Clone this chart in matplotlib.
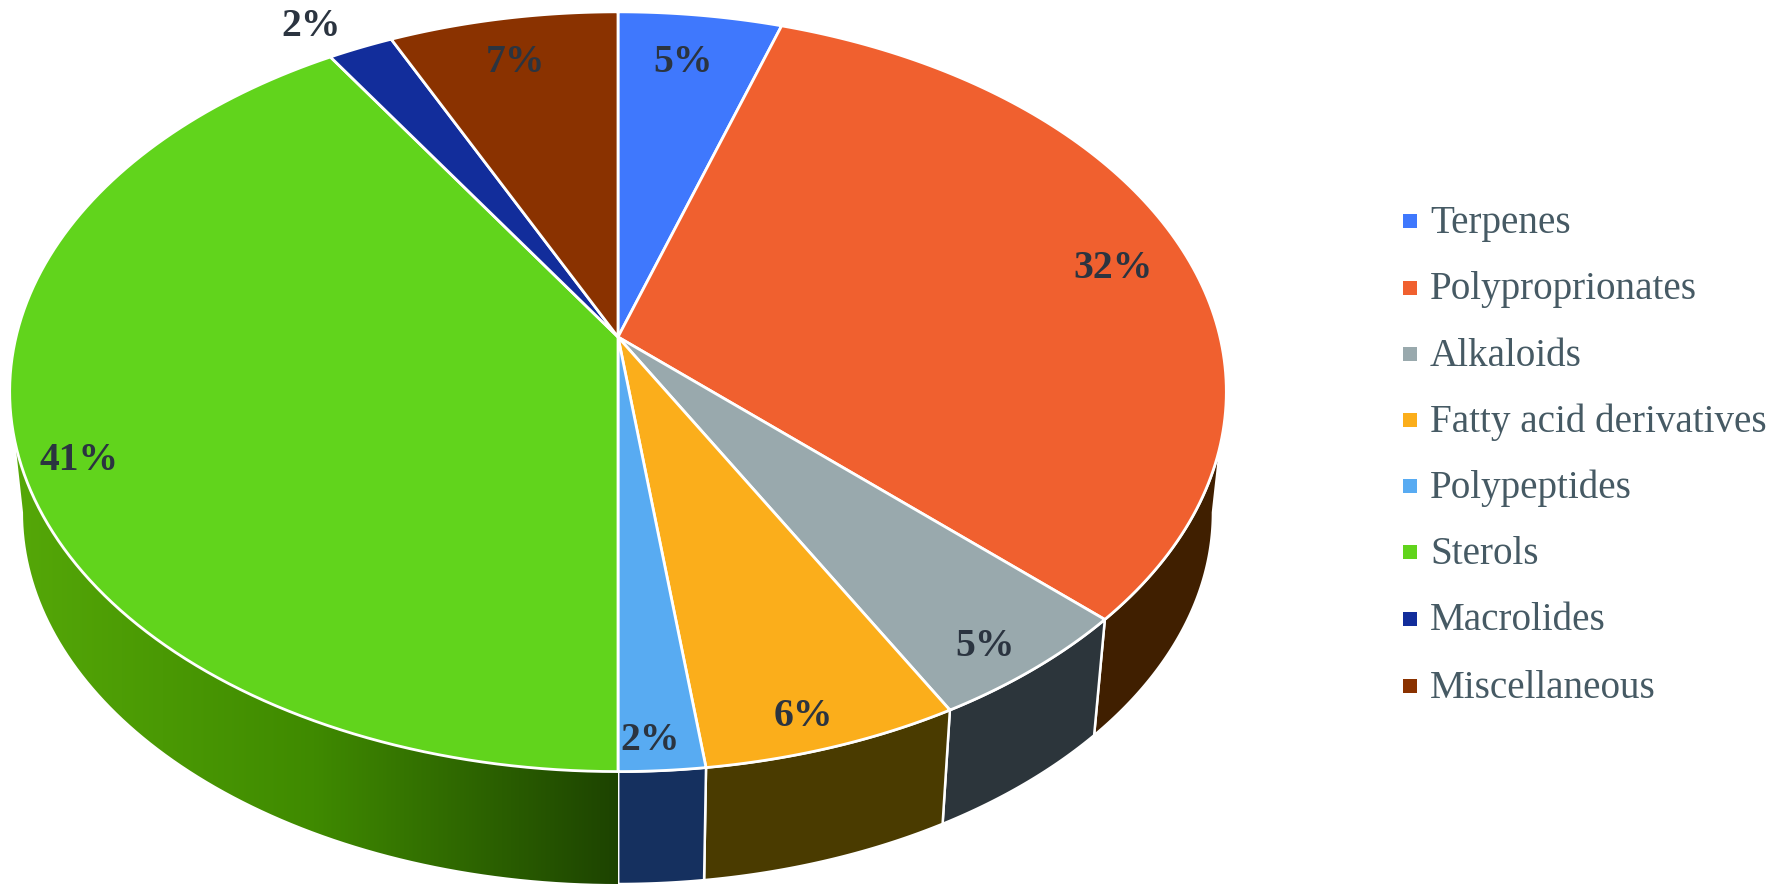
import numpy as np
import matplotlib
matplotlib.use('Agg')
import matplotlib.pyplot as plt
from matplotlib.colors import LinearSegmentedColormap
from matplotlib.patches import Polygon

categories = ['Terpenes', 'Polyproprionates', 'Alkaloids', 'Fatty acid derivatives',
              'Polypeptides', 'Sterols', 'Macrolides', 'Miscellaneous']
values = [5, 32, 5, 6, 2, 41, 2, 7]

top_colors = ['#3f78fd', '#f0602f', '#99a9ad', '#fbae1b', '#58abf2', '#61d41c', '#122d9b', '#8a3200']
side_colors = ['#1a3260', '#401f00', '#2c353b', '#4a3b00', '#15305f', '#2f6a00', '#0a1a50', '#4a1c00']

# geometry of the perspective disc, in pixels
CX, CY = 618, 337
RX, RY = 602, 372
PERSP = 0.144
DEPTH_Y = 122
DEPTH_SCALE = 0.978

# label places follow the reference, they are not at a fixed radius
label_xy = [(683, 62), (1113, 269), (985, 647), (803, 717),
            (650, 741), (79, 460), (311, 26), (516, 63)]
legend_y = [221, 288, 354, 420, 486, 552, 619, 686]


def project(theta, depth=False):
    u, v = np.sin(theta), np.cos(theta)
    w = 1 + PERSP * v
    x, y = RX * u / w, RY * v / w
    if depth:
        return CX + x * DEPTH_SCALE, CY + DEPTH_Y - y * DEPTH_SCALE
    return CX + x, CY - y


fig = plt.figure(figsize=(17.72, 8.96), dpi=100)
ax = fig.add_axes([0, 0, 1, 1])
ax.set_xlim(0, 1772)
ax.set_ylim(896, 0)
ax.axis('off')

edges = np.cumsum([0] + values) / sum(values) * 2 * np.pi
front_start = np.arccos(-PERSP)
front_end = 2 * np.pi - front_start

# side wall first, the top goes over it
green_grad = LinearSegmentedColormap.from_list('green_side', ['#55a808', '#3f8a00', '#1d4300'])
for i in range(len(values)):
    a0 = max(edges[i], front_start)
    a1 = min(edges[i + 1], front_end)
    if a1 <= a0:
        continue
    t = np.linspace(a0, a1, 80)
    xt, yt = project(t)
    xb, yb = project(t, depth=True)
    pts = np.column_stack([np.r_[xt, xb[::-1]], np.r_[yt, yb[::-1]]])
    poly = Polygon(pts, closed=True, facecolor=side_colors[i], edgecolor='white', linewidth=1.8, zorder=2)
    ax.add_patch(poly)
    if categories[i] == 'Sterols':
        grad = np.linspace(0, 1, 256).reshape(1, -1)
        img = ax.imshow(grad, extent=(pts[:, 0].min(), pts[:, 0].max(), pts[:, 1].max(), pts[:, 1].min()),
                        cmap=green_grad, aspect='auto', zorder=2.5)
        img.set_clip_path(poly)

ax.set_xlim(0, 1772)
ax.set_ylim(896, 0)

for i in range(len(values)):
    t = np.linspace(edges[i], edges[i + 1], 120)
    x, y = project(t)
    pts = np.column_stack([np.r_[CX, x], np.r_[CY, y]])
    ax.add_patch(Polygon(pts, closed=True, facecolor=top_colors[i], edgecolor='white',
                         linewidth=2, joinstyle='round', zorder=3))

for val, (lx, ly) in zip(values, label_xy):
    ax.text(lx, ly, f'{val}%', ha='center', va='center', fontsize=28.5, fontweight='bold',
            family='Liberation Serif', color='#2b3440', zorder=5)

for name, col, ly in zip(categories, top_colors, legend_y):
    ax.scatter([1410], [ly], marker='s', s=95, color=col, linewidths=0, zorder=5)
    ax.text(1430, ly + 2, name, ha='left', va='center', fontsize=28.2,
            family='Liberation Serif', color='#465a64', zorder=5)

fig.savefig('out.png', dpi=100)
